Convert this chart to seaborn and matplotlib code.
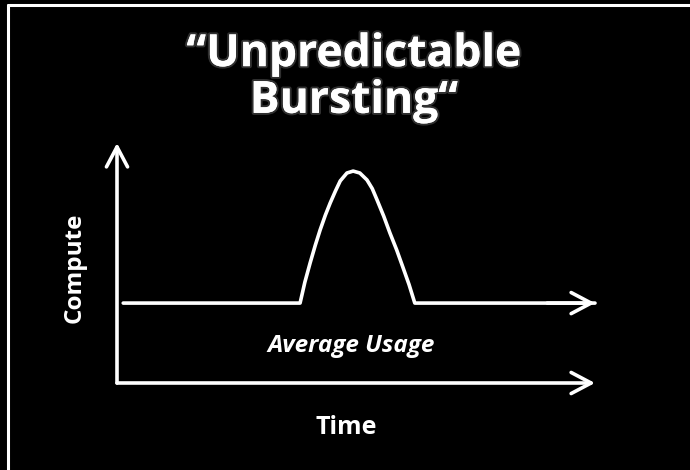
import matplotlib
matplotlib.use("Agg")
import matplotlib.pyplot as plt
import matplotlib.patheffects as pe
from matplotlib.lines import Line2D
import seaborn as sns
import pandas as pd

# ---- data (abstract units: time 0..10, compute 0..10) ----
time_pts = [0.13, 3.83, 3.93, 4.04, 4.15, 4.25, 4.36, 4.46, 4.57, 4.67, 4.81, 4.94,
            5.08, 5.23, 5.34, 5.44, 5.58, 5.71, 5.85, 5.98, 6.11, 6.23, 10.0]
compute_pts = [3.33, 3.33, 4.2, 5.0, 5.75, 6.38, 7.0, 7.5, 8.0, 8.42, 8.75, 8.83,
               8.75, 8.46, 8.1, 7.63, 6.95, 6.25, 5.55, 4.83, 4.1, 3.33, 3.33]
axis_max = 10.0
title_text = "\u201cUnpredictable\nBursting\u201c"
x_label = "Time"
y_label = "Compute"
avg_label = "Average Usage"

sns.set_theme(style="dark")
plt.rcParams["font.family"] = ["Open Sans", "DejaVu Sans"]

fig = plt.figure(figsize=(6.9, 4.7), dpi=100, facecolor="black")
ax = fig.add_axes([117 / 690, (470 - 383) / 470, 478 / 690, 240 / 470])
ax.set_facecolor("black")
ax.set_xlim(0, axis_max)
ax.set_ylim(0, axis_max)
ax.axis("off")

df = pd.DataFrame({"time": time_pts, "compute": compute_pts})
sns.lineplot(data=df, x="time", y="compute", ax=ax, color="white", lw=2.6,
             sort=False, estimator=None, legend=False)
for l in ax.lines:
    l.set_clip_on(False)
    l.set_solid_joinstyle("round")

arrow_kw = dict(arrowstyle="->,head_length=0.72,head_width=0.38",
                color="white", lw=2.6, mutation_scale=20,
                shrinkA=0, shrinkB=0)
# axes with arrows
ax.annotate("", xy=(0, axis_max), xytext=(0, 0), arrowprops=arrow_kw,
            annotation_clip=False)
ax.annotate("", xy=(axis_max, 0), xytext=(0, 0), arrowprops=arrow_kw,
            annotation_clip=False)
# arrow head on usage line
ax.annotate("", xy=(time_pts[-1], compute_pts[-1]),
            xytext=(time_pts[-1] - 1.0, compute_pts[-1]), arrowprops=arrow_kw,
            annotation_clip=False)

# texts
fig.text(354 / 690, 1 - 78 / 470, title_text, color="white", fontsize=32,
         fontweight="bold", ha="center", va="center", linespacing=1.05,
         path_effects=[pe.withStroke(linewidth=3, foreground="#303030"), pe.Normal()])
fig.text(351 / 690, 1 - 346 / 470, avg_label, color="white", fontsize=17.5,
         fontweight="bold", fontstyle="italic", ha="center", va="center")
fig.text(346 / 690, 1 - 427 / 470, x_label, color="white", fontsize=18,
         fontweight="bold", ha="center", va="center")
fig.text(75 / 690, 1 - 268 / 470, y_label, color="white", fontsize=17.5,
         fontweight="bold", ha="center", va="center", rotation=90)

# frame lines (top and left)
fig.add_artist(Line2D([8 / 690, 8 / 690], [0, 1 - 5 / 470], color="white", lw=2.2,
                      transform=fig.transFigure))
fig.add_artist(Line2D([8 / 690, 1], [1 - 5 / 470, 1 - 5 / 470], color="white", lw=2.2,
                      transform=fig.transFigure))

fig.savefig("out.png", dpi=100, facecolor="black")
